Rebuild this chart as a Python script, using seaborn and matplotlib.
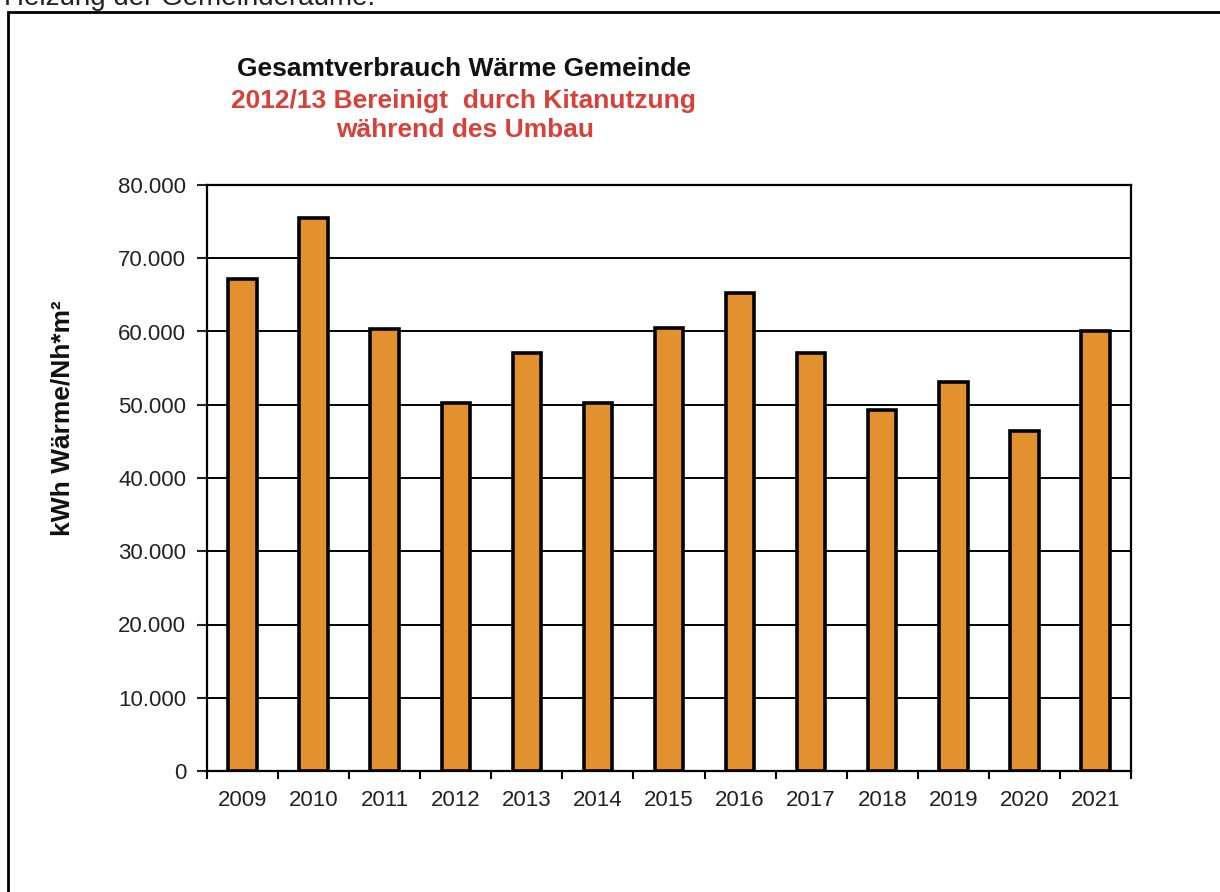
import numpy as np
import pandas as pd
import matplotlib
matplotlib.use('Agg')
import matplotlib.pyplot as plt
import matplotlib.ticker as mticker
from matplotlib.patches import Rectangle
import seaborn as sns

years = ['2009', '2010', '2011', '2012', '2013', '2014', '2015',
         '2016', '2017', '2018', '2019', '2020', '2021']
waerme = [67200, 75500, 60300, 50300, 57000, 50300, 60500,
          65300, 57100, 49300, 53100, 46400, 60000]

title_black = 'Gesamtverbrauch Wärme Gemeinde'
title_red = ['2012/13 Bereinigt  durch Kitanutzung', 'während des Umbau']
ylabel = 'kWh Wärme/Nh*m²'

sns.set_style('white')
plt.rcParams['font.family'] = ['Liberation Sans', 'DejaVu Sans']

df = pd.DataFrame({'Jahr': years, 'Wert': waerme})

fig = plt.figure(figsize=(12.2, 8.92), dpi=100)
ax = fig.add_axes([207 / 1220, 1 - 771 / 892, (1131 - 207) / 1220, (771 - 185) / 892])

sns.barplot(data=df, x='Jahr', y='Wert', color='#E3902F', saturation=1,
            edgecolor='black', linewidth=2.6, width=0.4, ax=ax, zorder=3)

ax.set_ylim(0, 80000)
ax.set_xlim(-0.5, len(years) - 0.5)
ax.set_yticks(np.arange(0, 80001, 10000))
ax.yaxis.set_major_formatter(mticker.FuncFormatter(lambda v, p: f'{v:,.0f}'.replace(',', '.')))
ax.yaxis.grid(True, color='black', linewidth=1.4, zorder=1)
ax.set_axisbelow(True)
for s in ax.spines.values():
    s.set_visible(True)
    s.set_color('black')
    s.set_linewidth(1.6)

ax.set_xticks(np.arange(-0.5, len(years)), minor=True)
ax.tick_params(axis='x', which='major', length=0, pad=14, labelsize=16, colors='#222222')
ax.tick_params(axis='x', which='minor', length=6, width=1.5, direction='out', color='black', bottom=True)
ax.tick_params(axis='y', length=7, width=1.5, direction='out', left=True, pad=8,
               labelsize=16, colors='#222222')
ax.set_xlabel('')
ax.set_ylabel('')

# Titel und Achsenbeschriftung
fig.text(464 / 1220, 1 - 69 / 892, title_black, ha='center', va='center',
         fontsize=19, fontweight='bold', color='#111111')
fig.text(463 / 1220, 1 - 101 / 892, title_red[0], ha='center', va='center',
         fontsize=19, fontweight='bold', color='#D94038')
fig.text(465 / 1220, 1 - 130 / 892, title_red[1], ha='center', va='center',
         fontsize=19, fontweight='bold', color='#D94038')
fig.text(62 / 1220, 1 - 418 / 892, ylabel, ha='center', va='center', rotation=90,
         fontsize=19, fontweight='bold', color='#111111')

# abgeschnittene Überschrift des Dokuments und Rahmen
fig.text(4 / 1220, 1 - 5 / 892, 'Heizung der Gemeinderäume.', ha='left', va='baseline',
         fontsize=20, color='#222222')
fig.patches.append(Rectangle((8 / 1220, -0.1), 1.2, 1.1 - 12 / 892, transform=fig.transFigure,
                             fill=False, edgecolor='black', linewidth=2))

fig.savefig('out.png', dpi=100)
